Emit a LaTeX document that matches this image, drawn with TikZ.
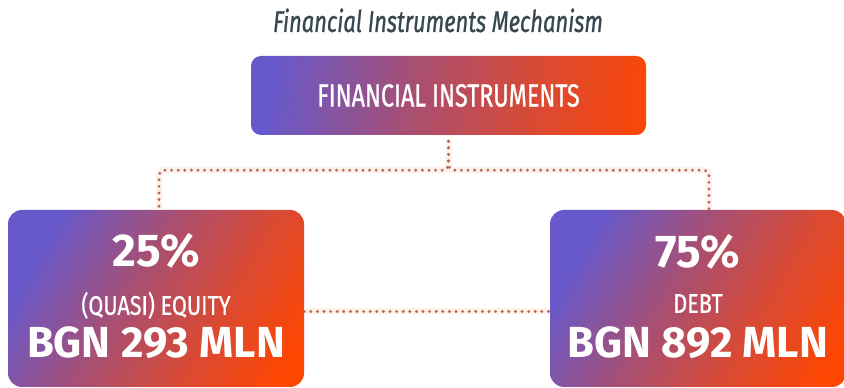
\documentclass[tikz,border=0pt]{standalone}
\usepackage{fontspec}
\usetikzlibrary{positioning,calc}
\newfontfamily\capfont[FakeStretch=0.73, FakeBold=0.8]{Fira Sans}
\newfontfamily\kindfam[FakeStretch=0.8, FakeBold=0.6]{Fira Sans}
\newfontfamily\figfont{Fira Sans}
\definecolor{FinPurple}{HTML}{6759CB}
\definecolor{FinPlum}{HTML}{A84F72}
\definecolor{FinRed}{HTML}{D84A35}
\definecolor{FinOrange}{HTML}{FF4600}
\definecolor{FinDots}{HTML}{B5675A}
\definecolor{FinGlow}{HTML}{FEF2E8}
\definecolor{FinTitle}{HTML}{37474F}
\pgfdeclarehorizontalshading{finshade}{100bp}{color(0bp)=(FinPurple); color(25bp)=(FinPurple); color(45bp)=(FinPlum); color(62bp)=(FinRed); color(80bp)=(FinOrange); color(100bp)=(FinOrange)}

\begin{document}
\begin{tikzpicture}[
        x=1pt, y=1pt,
        title/.style={font=\capfont\itshape\fontsize{30}{32}\selectfont, text=FinTitle, anchor=base},
        box/.style={shading=finshade, rounded corners=10pt, text=white, align=center, inner sep=0pt},
        share/.style={box, minimum width=296pt, minimum height=177pt, rounded corners=14pt, shading angle=-30},
        pct/.style={font=\figfont\bfseries\fontsize{46}{48}\selectfont, text=white, anchor=base, inner sep=0pt},
        kind/.style={font=\kindfam\fontsize{27}{29}\selectfont, text=white, anchor=base, inner sep=0pt},
        sum/.style={font=\figfont\bfseries\fontsize{43.5}{45}\selectfont, text=white, anchor=base, inner sep=0pt},
        glow/.style={draw=FinGlow, line width=6pt, rounded corners=5pt},
        dots/.style={draw=FinDots, line width=3.2pt, line cap=round, dash pattern=on 0pt off 6.6pt, rounded corners=5pt}
      ]
        \useasboundingbox (0,0) rectangle (844,388);
        \clip (0,0) rectangle (844,388);
        \fill[white] (0,0) rectangle (844,388);
        \node[title] (head) at (438,356) {Financial Instruments Mechanism};
        \node[box, minimum width=395pt, minimum height=79pt, shading angle=-8,
          font=\capfont\fontsize{32}{34}\selectfont] (instr) at (448.5,292.5) {FINANCIAL INSTRUMENTS};
        \node[share] (equity) at (156,89.5) {};
        \node[share] (debt) at (698,89.5) {};
        \node[pct] (eqpct) at ([yshift=-57pt]equity.north) {25\%};
        \node[kind] (eqkind) at ([yshift=-105pt]equity.north) {(QUASI) EQUITY};
        \node[sum] (eqsum) at ([yshift=-148pt]equity.north) {BGN 293 MLN};
        \node[pct] (dtpct) at ([yshift=-58pt]debt.north) {75\%};
        \node[kind] (dtkind) at ([yshift=-103pt]debt.north) {DEBT};
        \node[sum] (dtsum) at ([yshift=-148pt]debt.north) {BGN 892 MLN};
        \draw[glow] ([yshift=-6pt]instr.south) -- ++(0,-29) -| ([xshift=3pt]equity.north);
        \draw[glow] ([yshift=-6pt]instr.south) -- ++(0,-29) -| ([xshift=11pt]debt.north);
        \draw[glow] ([yshift=-13pt]equity.east) -- ([yshift=-13pt]debt.west);
        \draw[dots] ([yshift=-6pt]instr.south) -- ++(0,-29) -| ([xshift=3pt]equity.north);
        \draw[dots] ([yshift=-6pt]instr.south) -- ++(0,-29) -| ([xshift=11pt]debt.north);
        \draw[dots] ([yshift=-13pt]equity.east) -- ([yshift=-13pt]debt.west);
      \end{tikzpicture}
\end{document}
